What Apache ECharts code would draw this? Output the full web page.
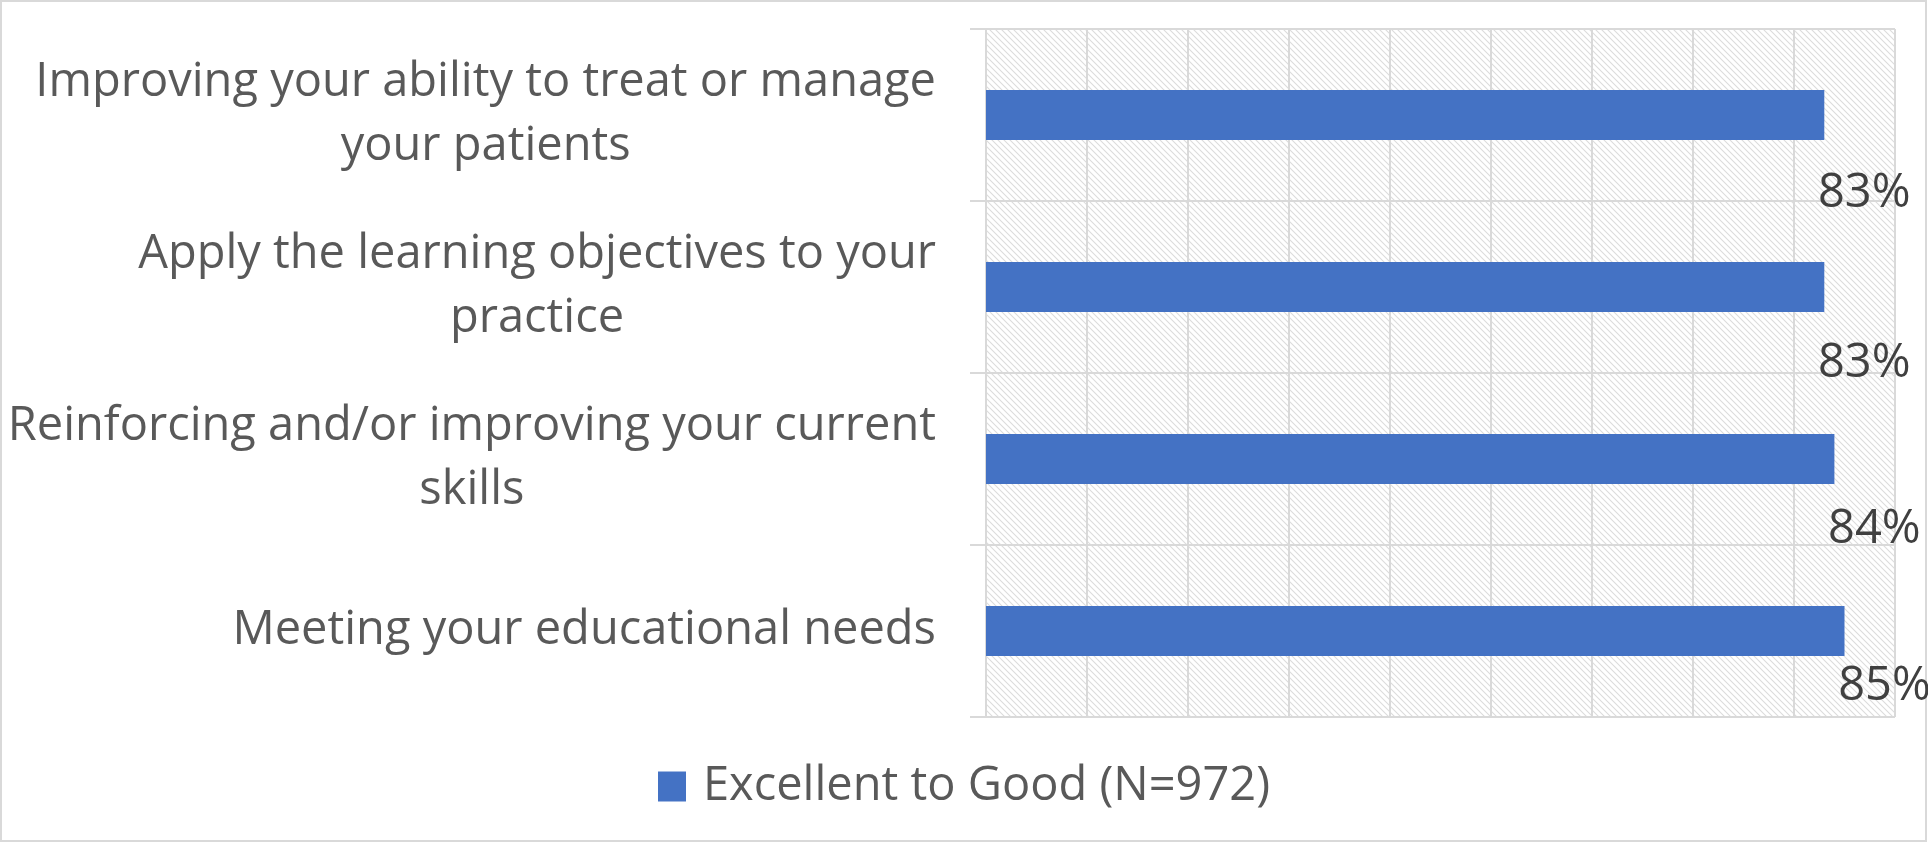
<!DOCTYPE html>
<html>
<head>
<meta charset="utf-8">
<script src="https://cdn.jsdelivr.net/npm/echarts@6/dist/echarts.min.js"></script>
<style>
  html, body { margin: 0; padding: 0; background: #fff; }
  #chart { width: 1928px; height: 843px; }
</style>
</head>
<body>
<div id="chart"></div>
<script>
const categories = [
  'Improving your ability to treat or manage your patients',
  'Apply the learning objectives to your practice',
  'Reinforcing and/or improving your current skills',
  'Meeting your educational needs'
];
const seriesName = 'Excellent to Good (N=972)';
const values = [0.83, 0.83, 0.84, 0.85];

const FONT = 'Open Sans';
const catSize = 47;

// small diagonal hatch tile for the plot background
function hatch() {
  const c = document.createElement('canvas');
  c.width = 6; c.height = 6;
  const g = c.getContext('2d');
  g.fillStyle = '#fff';
  g.fillRect(0, 0, 6, 6);
  g.strokeStyle = '#dcdcdc';
  g.lineWidth = 1.1;
  g.beginPath();
  g.moveTo(-1, -1); g.lineTo(7, 7);
  g.moveTo(-4, 2); g.lineTo(1, 7);
  g.moveTo(2, -4); g.lineTo(7, 1);
  g.stroke();
  return c;
}

// word wrap, each line centred inside the right-aligned block
const mctx = document.createElement('canvas').getContext('2d');
function wrap(text, maxW) {
  mctx.font = catSize + 'px "' + FONT + '"';
  const words = text.split(' ');
  const lines = [];
  let cur = '';
  words.forEach(w => {
    const t = cur ? cur + ' ' + w : w;
    if (cur && mctx.measureText(t).width > maxW) {
      lines.push(cur);
      cur = w;
    } else {
      cur = t;
    }
  });
  lines.push(cur);
  return lines.map(l => '{c|' + l + '}').join('\n');
}

const labelDy = [79, 77, 71, 56];

const chart = echarts.init(document.getElementById('chart'));
chart.setOption({
  backgroundColor: '#fff',
  textStyle: { fontFamily: FONT },
  graphic: [{
    type: 'rect',
    shape: { x: 1, y: 1, width: 1925, height: 840 },
    style: { fill: null, stroke: '#d9d9d9', lineWidth: 2 },
    silent: true
  }],
  grid: {
    left: 986, right: 33, top: 29, bottom: 126,
    show: true,
    borderWidth: 0,
    backgroundColor: { image: hatch(), repeat: 'repeat' }
  },
  legend: {
    bottom: 28,
    left: 'center',
    itemWidth: 28,
    itemHeight: 30,
    icon: 'rect',
    textStyle: { fontSize: 47, color: '#595959', fontFamily: FONT, padding: [0, 0, 0, 12] },
    data: [seriesName]
  },
  xAxis: {
    type: 'value',
    min: 0, max: 0.9, interval: 0.1,
    axisLabel: { show: false },
    axisLine: { show: false },
    axisTick: { show: false },
    splitLine: { lineStyle: { color: '#d9d9d9', width: 2 } }
  },
  yAxis: {
    type: 'category',
    inverse: true,
    data: categories,
    axisLine: { show: true, lineStyle: { color: '#d9d9d9', width: 2 } },
    axisTick: { show: true, length: 16, lineStyle: { color: '#d9d9d9', width: 2 } },
    splitLine: { show: true, lineStyle: { color: '#d9d9d9', width: 2 } },
    axisLabel: {
      margin: 50,
      fontSize: catSize,
      lineHeight: 64,
      color: '#595959',
      align: 'right',
      formatter: v => wrap(v, 940),
      rich: {
        c: { align: 'center', fontSize: catSize, lineHeight: 64, color: '#595959', fontFamily: FONT }
      }
    }
  },
  series: [{
    name: seriesName,
    type: 'bar',
    barCategoryGap: '71%',
    itemStyle: { color: '#4472c4' },
    data: values.map((v, i) => ({
      value: v,
      label: { offset: [40, labelDy[i]] }
    })),
    label: {
      show: true,
      position: 'right',
      distance: 0,
      align: 'center',
      fontSize: 47,
      color: '#404040',
      formatter: p => Math.round(p.value * 100) + '%'
    }
  }]
});
</script>
</body>
</html>
